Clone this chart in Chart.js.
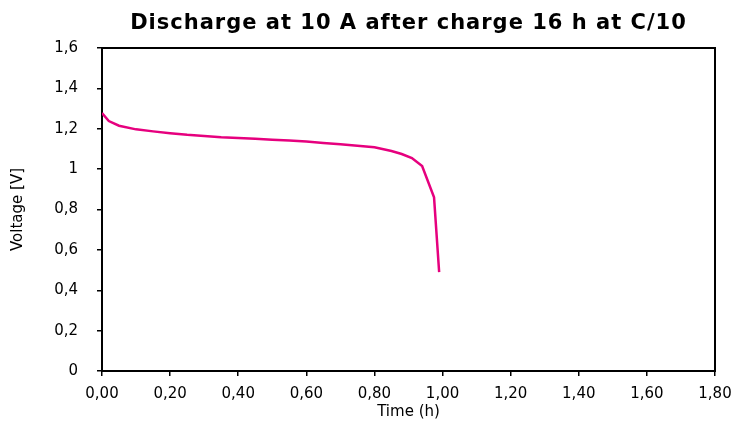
<!DOCTYPE html>
<html>
<head>
<meta charset="utf-8">
<script src="https://cdn.jsdelivr.net/npm/chart.js@4"></script>
<style>
  html, body { margin: 0; padding: 0; background: #fff; }
  #wrap { width: 735px; height: 423px; }
</style>
</head>
<body>
<div id="wrap"><canvas id="chart"></canvas></div>
<script>
const titleText = "Discharge at 10 A after charge 16 h at C/10";
const timeH = [0, 0.02, 0.05, 0.1, 0.15, 0.2, 0.25, 0.3, 0.35, 0.4, 0.45, 0.5, 0.55, 0.6, 0.65, 0.7, 0.75, 0.8, 0.85, 0.88, 0.91, 0.94, 0.975, 0.99];
const voltage = [1.278, 1.238, 1.215, 1.197, 1.187, 1.178, 1.170, 1.164, 1.158, 1.154, 1.150, 1.146, 1.142, 1.137, 1.130, 1.123, 1.116, 1.108, 1.090, 1.075, 1.055, 1.015, 0.86, 0.49];

const points = timeH.map((t, i) => ({ x: t, y: voltage[i] }));
const font = "'DejaVu Sans', sans-serif";

// title centred over the plot area, as in the original
const plotTitle = {
  id: "plotTitle",
  afterDraw(chart) {
    const c = chart.ctx;
    const a = chart.chartArea;
    c.save();
    c.fillStyle = "#000";
    c.font = "bold 21px " + font;
    c.letterSpacing = "1px";
    c.textAlign = "center";
    c.textBaseline = "middle";
    c.fillText(titleText, (a.left + a.right) / 2, 24);
    c.restore();
  }
};

new Chart(document.getElementById("chart"), {
  type: "line",
  data: {
    datasets: [{
      data: points,
      borderColor: "#e6007e",
      borderWidth: 2.5,
      pointRadius: 0,
      tension: 0,
      fill: false
    }]
  },
  options: {
    responsive: true,
    maintainAspectRatio: false,
    animation: false,
    layout: { padding: { top: 0, right: 0, left: 0, bottom: 2 } },
    plugins: {
      legend: { display: false },
      tooltip: { enabled: false },
      title: { display: false }
    },
    scales: {
      x: {
        type: "linear",
        min: 0,
        max: 1.8,
        afterFit: s => { s.height = 50; s.paddingLeft = 0; s.paddingRight = 0; },
        ticks: {
          stepSize: 0.2,
          color: "#000",
          font: { family: font, size: 15 },
          padding: 9,
          maxRotation: 0,
          callback: v => v.toFixed(2).replace(".", ",")
        },
        grid: { display: true, drawOnChartArea: false, drawTicks: true, tickLength: 5, color: "#000", lineWidth: 1.5 },
        border: { display: true, color: "#000", width: 2 },
        title: { display: true, text: "Time (h)", color: "#000", font: { family: font, size: 15 }, padding: { top: 0, bottom: 0 } }
      },
      y: {
        min: 0,
        max: 1.6,
        afterFit: s => { s.width = 102; },
        ticks: {
          stepSize: 0.2,
          color: "#000",
          font: { family: font, size: 15 },
          padding: 19,
          callback: v => String(Math.round(v * 10) / 10).replace(".", ",")
        },
        grid: { display: true, drawOnChartArea: false, drawTicks: true, tickLength: 5, color: "#000", lineWidth: 1.5 },
        border: { display: true, color: "#000", width: 2 },
        title: { display: true, text: "Voltage [V]", color: "#000", font: { family: font, size: 15 }, padding: { top: 9, bottom: 0 } }
      },
      x2: {
        type: "linear",
        position: "top",
        min: 0,
        max: 1.8,
        afterFit: s => { s.height = 48; s.paddingLeft = 0; s.paddingRight = 0; },
        ticks: { display: false },
        grid: { display: false },
        border: { display: true, color: "#000", width: 2 }
      },
      y2: {
        position: "right",
        min: 0,
        max: 1.6,
        afterFit: s => { s.width = 20; },
        ticks: { display: false },
        grid: { display: false },
        border: { display: true, color: "#000", width: 2 }
      }
    }
  },
  plugins: [plotTitle]
});
</script>
</body>
</html>
